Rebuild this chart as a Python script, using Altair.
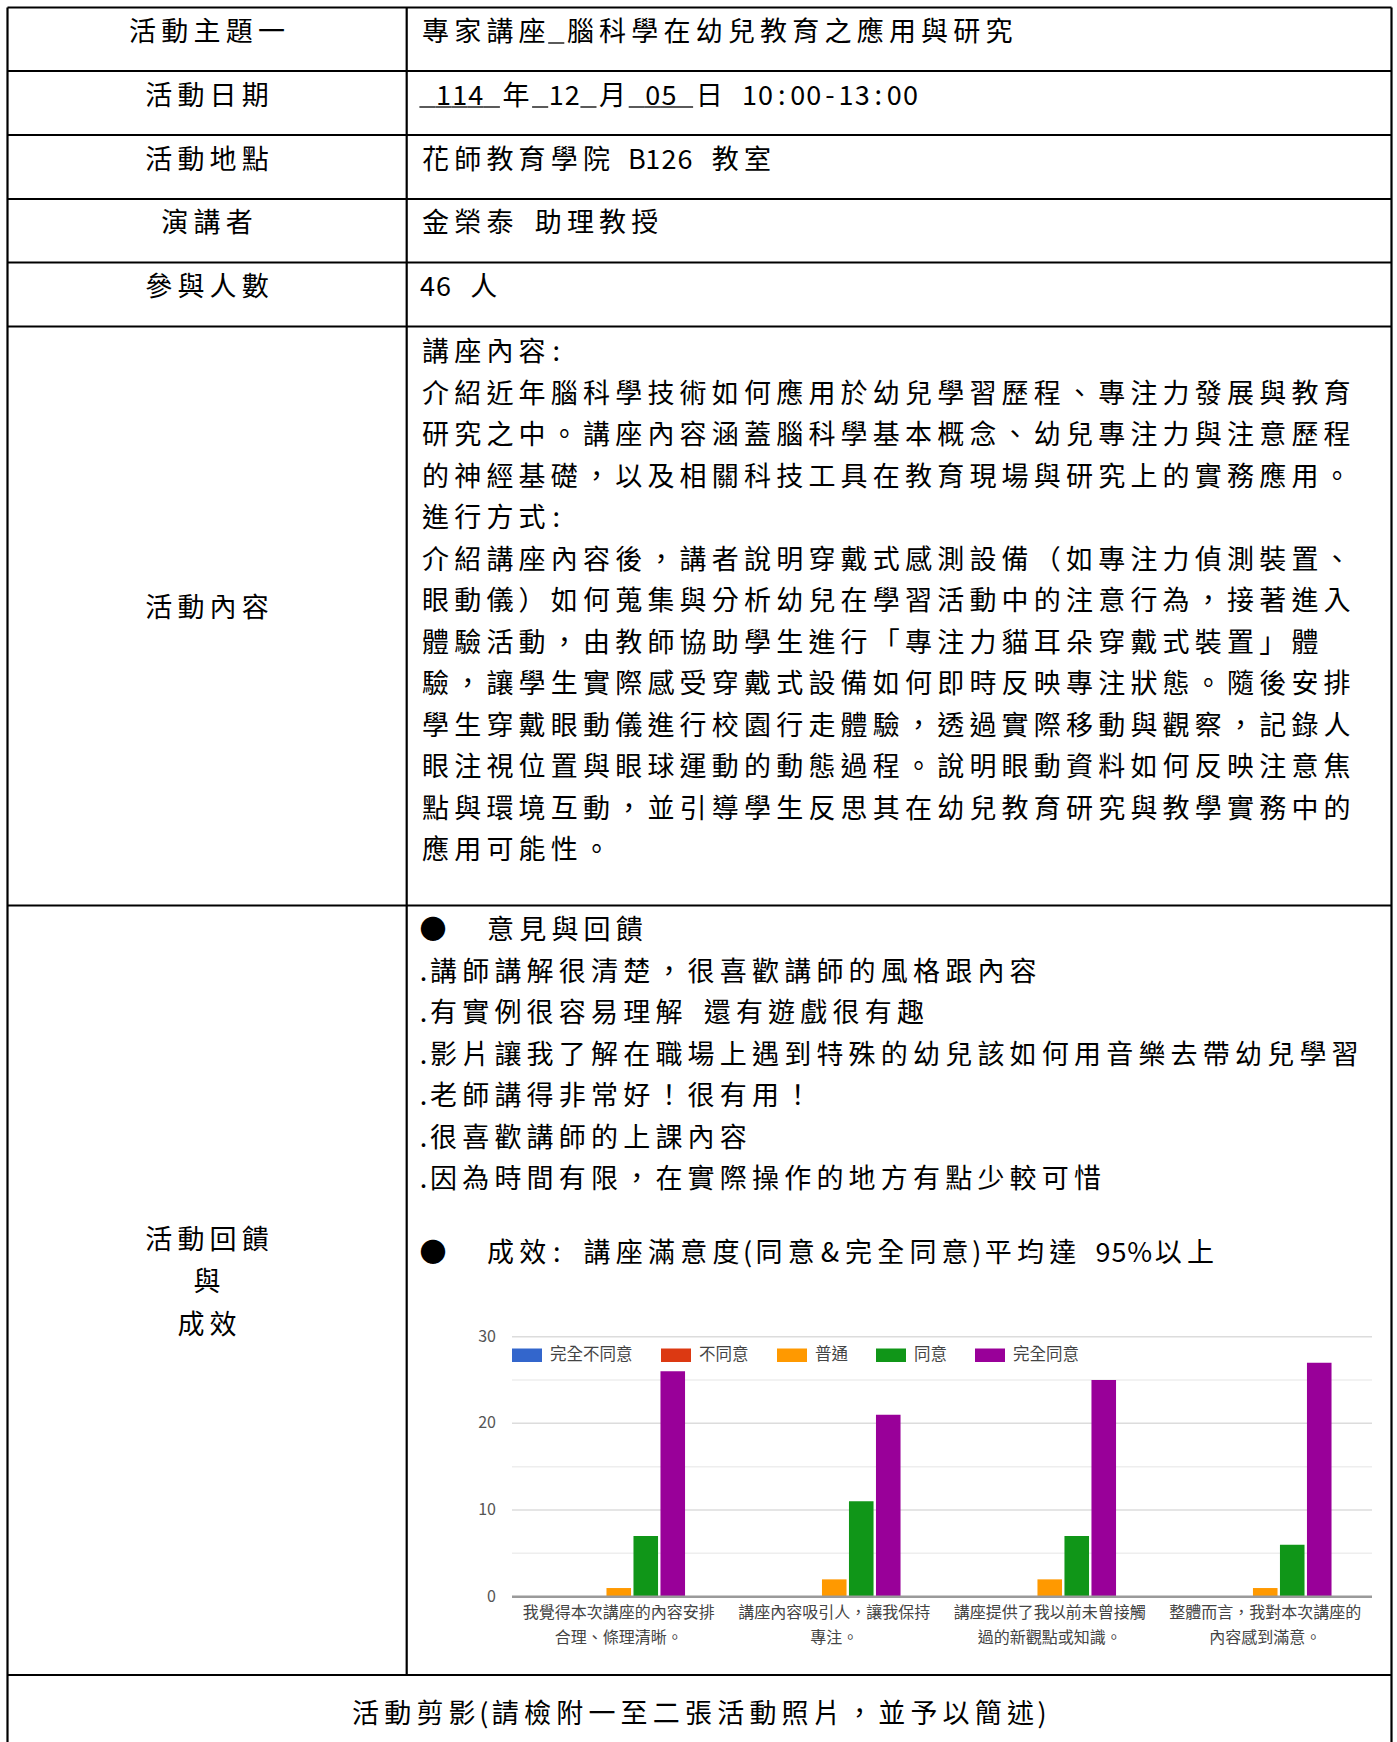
import altair as alt
import pandas as pd

# ---------------- data (text and values) ----------------
ROW_LABELS = ["活動主題一", "活動日期", "活動地點", "演講者", "參與人數"]
ROW_VALUES = [
    "專家講座_腦科學在幼兒教育之應用與研究",
    "_114_年_12_月_05_日 10:00-13:00",
    "花師教育學院 B126 教室",
    "金榮泰 助理教授",
    "46 人",
]
# which characters of the date line are underlined (1 = underlined)
DATE_UNDERLINE_MASK = "11111" + "0" + "1001" + "0" + "1111" + "0" + "000000000000"

CONTENT_LABEL = "活動內容"
CONTENT_LINES = [
    "講座內容:",
    "介紹近年腦科學技術如何應用於幼兒學習歷程、專注力發展與教育",
    "研究之中。講座內容涵蓋腦科學基本概念、幼兒專注力與注意歷程",
    "的神經基礎，以及相關科技工具在教育現場與研究上的實務應用。",
    "進行方式:",
    "介紹講座內容後，講者說明穿戴式感測設備（如專注力偵測裝置、",
    "眼動儀）如何蒐集與分析幼兒在學習活動中的注意行為，接著進入",
    "體驗活動，由教師協助學生進行「專注力貓耳朵穿戴式裝置」體",
    "驗，讓學生實際感受穿戴式設備如何即時反映專注狀態。隨後安排",
    "學生穿戴眼動儀進行校園行走體驗，透過實際移動與觀察，記錄人",
    "眼注視位置與眼球運動的動態過程。說明眼動資料如何反映注意焦",
    "點與環境互動，並引導學生反思其在幼兒教育研究與教學實務中的",
    "應用可能性。",
]
FEEDBACK_LABEL_LINES = ["活動回饋", "與", "成效"]
BULLET = "●"
FEEDBACK_HEAD = "意見與回饋"
FEEDBACK_LINES = [
    ".講師講解很清楚，很喜歡講師的風格跟內容",
    ".有實例很容易理解 還有遊戲很有趣",
    ".影片讓我了解在職場上遇到特殊的幼兒該如何用音樂去帶幼兒學習",
    ".老師講得非常好！很有用！",
    ".很喜歡講師的上課內容",
    ".因為時間有限，在實際操作的地方有點少較可惜",
]
RESULT_LINE = "成效: 講座滿意度(同意&完全同意)平均達 95%以上"
PHOTO_LINE = "活動剪影(請檢附一至二張活動照片，並予以簡述)"

QUESTIONS = [
    "我覺得本次講座的內容安排\n合理、條理清晰。",
    "講座內容吸引人，讓我保持\n專注。",
    "講座提供了我以前未曾接觸\n過的新觀點或知識。",
    "整體而言，我對本次講座的\n內容感到滿意。",
]
SERIES = ["完全不同意", "不同意", "普通", "同意", "完全同意"]
COUNTS_STRONGLY_DISAGREE = [0, 0, 0, 0]
COUNTS_DISAGREE = [0, 0, 0, 0]
COUNTS_NEUTRAL = [1, 2, 2, 1]
COUNTS_AGREE = [7, 11, 7, 6]
COUNTS_STRONGLY_AGREE = [26, 21, 25, 27]
Y_TICKS = [0, 10, 20, 30]
Y_MINOR = [5, 15, 25]

# ---------------- layout / style ----------------
W, H = 1397, 1742
FONT = "Noto Sans CJK TC"
FS = 27
ADV = 32.2          # full-width character pitch of the document grid
SPECIAL_ADV = {".": 8.0, "(": 11.0, ")": 11.0, "%": 25.0, "&": 25.0}
Y_NUDGE = 2
UL_DROP = 12
LEFT, RIGHT, DIVIDER = 7.5, 1391.5, 406.7
ROW_EDGES = [7.5, 71, 135, 199, 262.5, 326.5, 905.5, 1675]
LABEL_CX = 207
TEXT_X0 = 419.4
HEADER_Y = [31, 95, 158.5, 222, 285.5]
CONTENT_Y0, LINE_STEP = 351, 41.5
CONTENT_LABEL_Y = 607
FEED_HEAD_Y = 929
FEED_Y0 = 970.5
RESULT_Y = 1251.5
FEED_LABEL_Y = [1239, 1281, 1323.5]
PHOTO_Y = 1713
BULLET_CX = 433
BULLET_TEXT_X0 = 484.4

COLORS = ["#3366cc", "#dc3912", "#ff9900", "#109618", "#990099"]


def advance(ch):
    if ch in SPECIAL_ADV:
        return SPECIAL_ADV[ch]
    if ord(ch) < 128:
        return ADV / 2
    return ADV


def text_width(s):
    return sum(advance(c) for c in s)


glyphs, underlines = [], []


def place(s, x0, y, mask=None):
    x = x0
    for i, ch in enumerate(s):
        w = advance(ch)
        if ch not in "_ ":
            glyphs.append({"x": x + w / 2, "y": y + Y_NUDGE, "t": ch})
        if ch == "_" or (mask is not None and mask[i] == "1"):
            underlines.append({"x": x, "x2": x + w, "y": y + UL_DROP})
        x += w


def place_center(s, cx, y):
    place(s, cx - text_width(s) / 2, y)


for lab, val, y in zip(ROW_LABELS, ROW_VALUES, HEADER_Y):
    place_center(lab, LABEL_CX, y)
    place(val, TEXT_X0, y, DATE_UNDERLINE_MASK if val.startswith("_114") else None)

place_center(CONTENT_LABEL, LABEL_CX, CONTENT_LABEL_Y)
for k, line in enumerate(CONTENT_LINES):
    place(line, TEXT_X0, CONTENT_Y0 + k * LINE_STEP)

place(BULLET, BULLET_CX - ADV / 2, FEED_HEAD_Y)
place(FEEDBACK_HEAD, BULLET_TEXT_X0, FEED_HEAD_Y)
for k, line in enumerate(FEEDBACK_LINES):
    place(line, TEXT_X0, FEED_Y0 + k * LINE_STEP)
place(BULLET, BULLET_CX - ADV / 2, RESULT_Y)
place(RESULT_LINE, BULLET_TEXT_X0, RESULT_Y)
for lab, y in zip(FEEDBACK_LABEL_LINES, FEED_LABEL_Y):
    place_center(lab, LABEL_CX, y)
place_center(PHOTO_LINE, W / 2, PHOTO_Y)

glyph_df = pd.DataFrame(glyphs)
ul_df = pd.DataFrame(underlines)

borders = []
for y in ROW_EDGES:
    borders.append({"x": LEFT, "x2": RIGHT, "y": y, "y2": y})
borders.append({"x": LEFT, "x2": LEFT, "y": ROW_EDGES[0], "y2": H})
borders.append({"x": RIGHT, "x2": RIGHT, "y": ROW_EDGES[0], "y2": H})
borders.append({"x": DIVIDER, "x2": DIVIDER, "y": ROW_EDGES[0], "y2": ROW_EDGES[-1]})
border_df = pd.DataFrame(borders)

XS = alt.Scale(domain=[0, W], range=[0, W], nice=False, zero=False)
YS = alt.Scale(domain=[0, H], range=[0, H], nice=False, zero=False)

border_layer = alt.Chart(border_df).mark_rule(color="#000", strokeWidth=2.2).encode(
    x=alt.X("x:Q", scale=XS, axis=None), x2="x2:Q",
    y=alt.Y("y:Q", scale=YS, axis=None), y2="y2:Q",
)
ul_layer = alt.Chart(ul_df).mark_rule(color="#000", strokeWidth=1.3).encode(
    x=alt.X("x:Q", scale=XS, axis=None), x2="x2:Q",
    y=alt.Y("y:Q", scale=YS, axis=None),
)
text_layer = alt.Chart(glyph_df).mark_text(
    font=FONT, fontSize=FS, color="#000", align="center", baseline="middle"
).encode(
    x=alt.X("x:Q", scale=XS, axis=None),
    y=alt.Y("y:Q", scale=YS, axis=None),
    text="t:N",
)
table = alt.layer(border_layer, ul_layer, text_layer)

# ---------------- bar chart ----------------
series_values = [COUNTS_STRONGLY_DISAGREE, COUNTS_DISAGREE, COUNTS_NEUTRAL,
                 COUNTS_AGREE, COUNTS_STRONGLY_AGREE]
rows = []
for s, vals in zip(SERIES, series_values):
    for q, v in zip(QUESTIONS, vals):
        rows.append({"q": q, "s": s, "v": v})
bar_df = pd.DataFrame(rows)

XB = alt.Scale(domain=QUESTIONS, range=[511, 1373], paddingInner=0.3735, paddingOuter=0.1868)
YB = alt.Scale(domain=[0, 30], range=[1596.7, 1336.7], nice=False, zero=True)

minor_grid = alt.Chart(pd.DataFrame({"v": Y_MINOR})).mark_rule(color="#eeeeee", strokeWidth=1.5).encode(
    y=alt.Y("v:Q", scale=YB, axis=None), x=alt.value(512), x2=alt.value(1372)
)
major_grid = alt.Chart(pd.DataFrame({"v": Y_TICKS[1:]})).mark_rule(color="#dcdcdc", strokeWidth=1.5).encode(
    y=alt.Y("v:Q", scale=YB, axis=None), x=alt.value(512), x2=alt.value(1372)
)
tick_labels = alt.Chart(pd.DataFrame({"v": Y_TICKS})).mark_text(
    font=FONT, fontSize=16, color="#555", align="right", baseline="middle"
).encode(
    y=alt.Y("v:Q", scale=YB, axis=None), x=alt.value(496), text="v:Q"
)
bars = alt.Chart(bar_df).mark_bar().encode(
    x=alt.X("q:N", sort=QUESTIONS, scale=XB, axis=None),
    xOffset=alt.XOffset("s:N", sort=SERIES, scale=alt.Scale(domain=SERIES, paddingInner=0.09, paddingOuter=0.045)),
    y=alt.Y("v:Q", scale=YB, axis=None),
    color=alt.Color(
        "s:N", sort=SERIES,
        scale=alt.Scale(domain=SERIES, range=COLORS),
        legend=alt.Legend(
            orient="none", legendX=512, legendY=1340, direction="horizontal", title=None,
            symbolType="M-1,-0.45H1V0.45H-1Z", symbolSize=900, symbolStrokeWidth=0,
            symbolOpacity=1, labelFont=FONT, labelFontSize=16.5, labelColor="#444",
            labelOffset=8, columnPadding=28, padding=0,
        ),
    ),
)
baseline = alt.Chart(pd.DataFrame({"v": [0]})).mark_rule(color="#9a9a9a", strokeWidth=2.5).encode(
    y=alt.Y("v:Q", scale=YB, axis=None), x=alt.value(512), x2=alt.value(1372)
)
cat_labels = alt.Chart(pd.DataFrame({"q": QUESTIONS})).mark_text(
    font=FONT, fontSize=16, color="#444", align="center", baseline="top",
    lineBreak="\n", lineHeight=24.5,
).encode(
    x=alt.X("q:N", sort=QUESTIONS, scale=XB, axis=None),
    y=alt.value(1605),
    text="q:N",
)
bar_chart = alt.layer(minor_grid, major_grid, tick_labels, bars, baseline, cat_labels)

chart = alt.layer(table, bar_chart).resolve_scale(
    x="independent", y="independent"
).properties(
    width=W, height=H, padding=0,
    autosize=alt.AutoSizeParams(type="none"),
    background="white",
).configure_view(stroke=None)

chart.save("out.html", embed_options={"renderer": "svg", "actions": False})
